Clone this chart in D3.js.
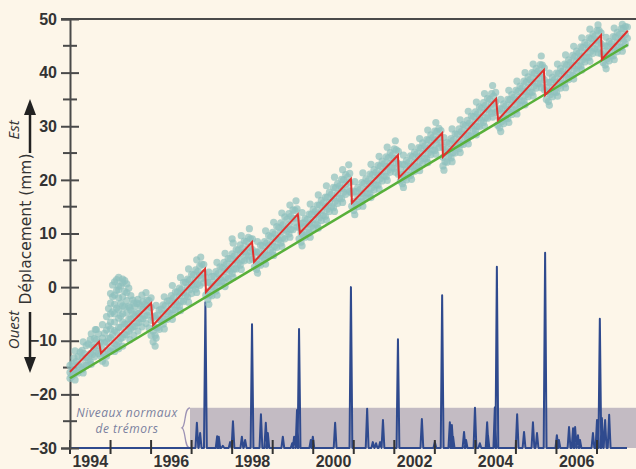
<!DOCTYPE html>
<html>
<head>
<meta charset="utf-8">
<script src="https://cdn.jsdelivr.net/npm/d3@7"></script>
<style>
  body { margin: 0; background: #fdf6e9; }
  svg { display: block; }
</style>
</head>
<body>
<div id="chart"></div>
<script>
// Axis ticks
var yMajor = [-30, -20, -10, 0, 10, 20, 30, 40, 50];
var yMinor = [-25, -15, -5, 5, 15, 25, 35, 45];
var xYears = [1994, 1995, 1996, 1997, 1998, 1999, 2000, 2001, 2002, 2003, 2004, 2005, 2006, 2007];
var xLabels = ["1994", "1996", "1998", "2000", "2002", "2004", "2006"];

// GPS readings: year, then displacement values (mm) read at that date
var gpsRows = [
  [1994.0, -14.6, -15.9, -17.0], [1994.1, -13.2, -15.4, -16.3], [1994.2, -12.9, -14.5, -16.0],
  [1994.3, -11.8, -13.2, -15.4], [1994.4, -10.9, -13.1, -14.6], [1994.5, -9.8, -12.4, -13.9],
  [1994.6, -9.6, -11.3, -13.0], [1994.7, -8.7, -10.9, -12.4], [1994.8, -9.5, -11.6, -13.8, -7.0],
  [1994.9, -8.0, -10.2, -12.9, -5.5], [1995.0, -6.5, -9.4, -11.9, -3.0, -1.2, -5.0, -7.8],
  [1995.1, -5.0, -8.1, -10.6, -1.5, 1.0, -3.2, -6.5, -12.0],
  [1995.2, -4.2, -7.5, -10.2, -0.5, 1.8, 0.2, -2.0, -5.8, -11.5],
  [1995.3, -3.5, -6.5, -9.4, 0.8, -1.8, 1.5, -5.0, -11.0], [1995.4, -4.8, -6.9, -8.9, -1.0, -2.5, 0.6],
  [1995.5, -4.3, -5.9, -7.8, -1.6], [1995.6, -3.6, -5.4, -7.3], [1995.7, -3.1, -4.9, -6.6],
  [1995.8, -2.7, -4.1, -5.9], [1995.9, -2.4, -3.5, -5.2], [1996.0, -2.0, -3.8, -6.2, -9.0],
  [1996.1, -5.4, -7.4, -9.0, -11.0], [1996.2, -4.3, -6.1, -7.9], [1996.3, -3.3, -5.0, -6.9],
  [1996.4, -2.6, -4.6, -6.0], [1996.5, -1.6, -3.3, -5.2], [1996.6, -0.9, -2.8, -4.3],
  [1996.7, -0.2, -1.6, -3.6], [1996.8, 0.9, -1.0, -2.7], [1996.9, 1.5, 0.0, -1.8],
  [1997.0, 2.4, 0.5, -1.2], [1997.1, 3.2, 1.3, -0.4], [1997.2, 3.9, 2.2, 0.3],
  [1997.3, 4.2, 2.6, 0.8], [1997.4, 0.9, -0.8, -2.3], [1997.5, 2.0, 0.1, -1.6],
  [1997.6, 2.9, 0.8, -0.7], [1997.7, 3.8, 1.7, 0.2], [1997.8, 4.6, 2.9, 0.9],
  [1997.9, 5.3, 3.4, 1.6], [1998.0, 6.2, 4.3, 2.5, 9.0], [1998.1, 7.0, 5.1, 3.4],
  [1998.2, 7.9, 6.2, 4.1], [1998.3, 8.6, 6.6, 4.9], [1998.4, 9.3, 7.4, 5.8],
  [1998.5, 9.0, 7.0, 5.2], [1998.6, 6.6, 4.9, 3.3], [1998.7, 7.8, 5.8, 4.1],
  [1998.8, 8.5, 6.7, 5.0], [1998.9, 9.6, 7.8, 5.9], [1999.0, 10.2, 8.4, 6.6],
  [1999.1, 11.3, 9.1, 7.4], [1999.2, 12.0, 10.3, 8.2], [1999.3, 13.1, 10.8, 9.0],
  [1999.4, 13.7, 11.6, 9.9], [1999.5, 14.4, 12.8, 10.7], [1999.6, 14.6, 12.9, 11.2],
  [1999.7, 11.9, 10.1, 8.4], [1999.8, 12.8, 11.3, 9.3], [1999.9, 13.6, 11.8, 10.1],
  [2000.0, 14.5, 12.6, 10.9], [2000.1, 15.3, 13.6, 11.6], [2000.2, 16.2, 14.2, 12.4],
  [2000.3, 16.8, 15.0, 13.2], [2000.4, 17.7, 15.8, 14.1], [2000.5, 18.6, 16.6, 14.8],
  [2000.6, 19.3, 17.5, 15.6], [2000.7, 20.1, 18.4, 16.5], [2000.8, 21.0, 19.2, 17.3],
  [2000.9, 21.2, 19.5, 17.8], [2001.0, 17.9, 16.0, 14.3], [2001.1, 18.6, 16.9, 15.0],
  [2001.2, 19.5, 17.5, 15.9], [2001.3, 20.2, 18.3, 16.6], [2001.4, 21.1, 19.3, 17.4],
  [2001.5, 21.9, 19.9, 18.1], [2001.6, 22.7, 20.9, 19.0], [2001.7, 23.5, 21.5, 19.8],
  [2001.8, 24.3, 22.5, 20.6], [2001.9, 25.1, 23.1, 21.4], [2002.0, 25.8, 24.0, 22.1],
  [2002.1, 25.3, 23.0, 21.0], [2002.2, 22.9, 21.0, 19.3], [2002.3, 23.6, 21.9, 20.0],
  [2002.4, 24.5, 22.5, 20.8], [2002.5, 25.2, 23.3, 21.6], [2002.6, 26.0, 24.3, 22.4],
  [2002.7, 26.9, 24.9, 23.1], [2002.8, 27.5, 25.8, 23.9], [2002.9, 28.4, 26.4, 24.7],
  [2003.0, 29.1, 27.4, 25.5], [2003.1, 29.6, 27.9, 26.0], [2003.2, 26.1, 24.2, 22.6],
  [2003.3, 27.0, 25.2, 23.3], [2003.4, 27.7, 25.8, 24.1], [2003.5, 28.6, 26.7, 25.0],
  [2003.6, 29.5, 27.5, 25.8], [2003.7, 30.3, 28.5, 26.6], [2003.8, 31.1, 29.1, 27.4],
  [2003.9, 31.9, 30.1, 28.2], [2004.0, 32.7, 30.8, 29.1], [2004.1, 33.6, 31.6, 29.9],
  [2004.2, 34.4, 32.6, 30.7], [2004.3, 35.2, 33.2, 31.5], [2004.4, 36.1, 34.1, 32.4],
  [2004.5, 36.3, 34.5, 32.6], [2004.6, 33.3, 31.4, 29.7], [2004.7, 34.2, 32.4, 30.5],
  [2004.8, 35.0, 33.1, 31.4], [2004.9, 35.9, 34.0, 32.2], [2005.0, 36.7, 34.9, 33.0],
  [2005.1, 37.5, 35.5, 33.8], [2005.2, 38.4, 36.5, 34.7], [2005.3, 39.2, 37.2, 35.5],
  [2005.4, 40.0, 38.2, 36.3], [2005.5, 40.8, 38.9, 37.1], [2005.6, 41.5, 39.8, 37.9],
  [2005.7, 40.9, 38.7, 36.8], [2005.8, 38.2, 36.4, 34.6], [2005.9, 39.1, 37.2, 35.5],
  [2006.0, 39.9, 38.2, 36.3], [2006.1, 40.8, 38.8, 37.1], [2006.2, 41.6, 39.7, 37.9],
  [2006.3, 42.4, 40.6, 38.7], [2006.4, 43.2, 41.3, 39.5], [2006.5, 44.0, 42.2, 40.3],
  [2006.6, 44.8, 43.0, 41.2], [2006.7, 45.6, 43.7, 42.0], [2006.8, 46.5, 44.6, 42.8],
  [2006.9, 47.2, 45.5, 43.6], [2007.0, 47.9, 46.1, 44.4], [2007.1, 47.4, 45.4, 43.5],
  [2007.2, 45.0, 43.1, 41.4], [2007.3, 45.8, 44.0, 42.2], [2007.4, 46.7, 44.8, 43.1],
  [2007.5, 47.5, 45.7, 43.9], [2007.6, 48.2, 46.4, 44.7], [2007.7, 48.6, 47.1, 45.3]
];

// GPS readings between the rows above
var gpsRowsMid = [
  [1994.05, -14.3, -16.6], [1994.15, -13.9, -15.8], [1994.25, -12.1, -14.9], [1994.35, -12.4, -14.5],
  [1994.45, -10.6, -13.6], [1994.55, -10.9, -12.6], [1994.65, -9.8, -11.9, -7.9], [1994.75, -10.3, -12.8],
  [1994.85, -10.4, -12.5, -8.6], [1994.95, -9.6, -11.9, -7.2, -4.0], [1995.05, -8.9, -11.4, -4.6, -1.8, 0.4],
  [1995.15, -8.4, -10.8, -3.9, -0.6, 1.4], [1995.25, -7.5, -9.6, -3.0, 0.2, -5.4], [1995.35, -6.9, -8.8, -3.7, -0.8, 1.2],
  [1995.45, -6.0, -8.2, -3.6, -0.2], [1995.55, -5.0, -7.4, -2.4], [1995.65, -4.8, -6.7, -3.0], [1995.75, -3.6, -5.9],
  [1995.85, -3.2, -5.4], [1995.95, -2.5, -4.6, -7.6], [1996.05, -5.6, -8.2, -10.2], [1996.15, -5.2, -7.6],
  [1996.25, -4.1, -6.3], [1996.35, -3.5, -5.9], [1996.45, -2.5, -4.8], [1996.55, -2.0, -4.2],
  [1996.65, -0.9, -3.3], [1996.75, -0.4, -2.6], [1996.85, 0.9, -1.6], [1996.95, 1.3, -0.5],
  [1997.05, 2.3, 0.2], [1997.15, 2.9, 0.6], [1997.25, 4.3, 1.6], [1997.35, 1.8, -1.5],
  [1997.45, 0.9, -1.4], [1997.55, 2.0, -0.3], [1997.65, 2.5, 0.8], [1997.75, 3.6, 1.2],
  [1997.85, 4.2, 1.8], [1997.95, 5.3, 3.0], [1998.05, 5.8, 3.4], [1998.15, 6.9, 4.5],
  [1998.25, 7.3, 5.1], [1998.35, 8.5, 6.1], [1998.45, 9.0, 6.6], [1998.55, 6.3, 3.8],
  [1998.65, 6.6, 4.3], [1998.75, 7.7, 5.5], [1998.85, 8.2, 6.0], [1998.95, 9.4, 7.0],
  [1999.05, 9.9, 7.6], [1999.15, 11.1, 8.8], [1999.25, 11.6, 9.2], [1999.35, 12.7, 10.4],
  [1999.45, 13.2, 10.8], [1999.55, 14.3, 12.0], [1999.65, 11.2, 9.0], [1999.75, 12.0, 9.7],
  [1999.85, 12.6, 10.2], [1999.95, 13.6, 11.3], [2000.05, 14.1, 11.8], [2000.15, 15.3, 12.9],
  [2000.25, 15.7, 13.4], [2000.35, 16.8, 14.5], [2000.45, 17.3, 15.0], [2000.55, 18.5, 16.0],
  [2000.65, 18.9, 16.6], [2000.75, 20.0, 17.7], [2000.85, 20.5, 18.2], [2000.95, 17.5, 15.1],
  [2001.05, 17.8, 15.5], [2001.15, 18.2, 15.9], [2001.25, 19.3, 17.0], [2001.35, 19.8, 17.5],
  [2001.45, 20.9, 18.6], [2001.55, 21.4, 19.1], [2001.65, 22.5, 20.2], [2001.75, 23.0, 20.7],
  [2001.85, 24.1, 21.8], [2001.95, 24.6, 22.3], [2002.05, 25.6, 23.3], [2002.15, 22.0, 19.8],
  [2002.25, 22.8, 20.5], [2002.35, 23.2, 20.9], [2002.45, 24.3, 22.0], [2002.55, 24.8, 22.5],
  [2002.65, 25.9, 23.6], [2002.75, 26.3, 24.0], [2002.85, 27.4, 25.1], [2002.95, 27.9, 25.6],
  [2003.05, 29.0, 26.7], [2003.15, 29.2, 27.0], [2003.25, 25.7, 23.4], [2003.35, 26.8, 24.5],
  [2003.45, 27.4, 25.1], [2003.55, 28.5, 26.2], [2003.65, 29.0, 26.7], [2003.75, 30.1, 27.8],
  [2003.85, 30.6, 28.3], [2003.95, 31.8, 29.5], [2004.05, 32.3, 30.0], [2004.15, 33.4, 31.1],
  [2004.25, 33.9, 31.6], [2004.35, 35.0, 32.7], [2004.45, 35.6, 33.3], [2004.55, 32.8, 30.2],
  [2004.65, 33.2, 30.9], [2004.75, 33.8, 31.5], [2004.85, 34.9, 32.6], [2004.95, 35.4, 33.1],
  [2005.05, 36.5, 34.2], [2005.15, 37.1, 34.8], [2005.25, 38.2, 35.9], [2005.35, 38.7, 36.4],
  [2005.45, 39.8, 37.5], [2005.55, 40.3, 38.0], [2005.65, 41.4, 39.1], [2005.75, 37.2, 35.0],
  [2005.85, 38.2, 35.9], [2005.95, 38.7, 36.4], [2006.05, 39.8, 37.5], [2006.15, 40.3, 38.0],
  [2006.25, 41.4, 39.1], [2006.35, 41.9, 39.6], [2006.45, 43.0, 40.7], [2006.55, 43.6, 41.3],
  [2006.65, 44.7, 42.4], [2006.75, 45.2, 42.9], [2006.85, 46.3, 44.0], [2006.95, 46.8, 44.5],
  [2007.05, 47.9, 45.6], [2007.15, 43.9, 41.9], [2007.25, 44.9, 42.6], [2007.35, 45.4, 43.1],
  [2007.45, 46.6, 44.3], [2007.55, 47.1, 44.8], [2007.65, 48.2, 45.9], [2007.75, 48.5, 46.4]
];

// Scattered readings at the upper and lower edge of the cloud
var gpsRowsEdge = [
  [1994.125, -11.9, -17.3], [1994.325, -10.2, -16.0], [1994.525, -8.7, -14.4], [1994.625, -7.9],
  [1994.875, -14.2], [1995.475, -3.8, -9.8], [1995.575, -3.0, -9.0], [1995.675, -2.3, -8.2],
  [1995.775, -1.5, -7.4], [1995.875, -1.0, -6.8], [1996.125, -3.4, -9.5], [1996.325, -1.8, -7.8],
  [1996.525, 0.3, -6.0], [1996.725, 1.8, -4.4], [1996.925, 3.4, -2.8], [1997.125, 5.1, -1.0],
  [1997.225, 5.6], [1997.425, 2.8, -3.2], [1997.625, 4.6, -1.5], [1997.825, 6.3, 0.1],
  [1998.025, 8.2, 1.8], [1998.225, 9.6, 3.3], [1998.425, 10.9, 5.0], [1998.625, 8.5, 2.6],
  [1998.825, 10.5, 4.3], [1999.025, 12.1, 5.9], [1999.225, 13.8, 7.6], [1999.425, 15.3, 9.3],
  [1999.575, 16.1], [1999.725, 13.9, 7.7], [1999.925, 15.5, 9.3], [2000.125, 17.2, 11.0],
  [2000.325, 18.9, 12.5], [2000.525, 20.5, 14.1], [2000.725, 21.9, 15.8], [2000.875, 22.8],
  [2001.025, 19.7, 13.5], [2001.225, 21.3, 15.1], [2001.425, 22.9, 16.7], [2001.625, 24.4, 18.3],
  [2001.825, 26.1, 19.9], [2002.025, 27.3, 21.4], [2002.225, 24.6, 18.6], [2002.425, 26.2, 20.1],
  [2002.625, 27.7, 21.7], [2002.825, 29.3, 23.2], [2003.025, 30.7, 24.8], [2003.225, 27.9, 21.8],
  [2003.425, 29.5, 23.4], [2003.625, 31.2, 25.1], [2003.825, 32.8, 26.7], [2004.025, 34.5, 28.4],
  [2004.225, 36.1, 30.0], [2004.425, 37.6, 31.7], [2004.625, 35.0, 29.0], [2004.825, 36.7, 30.7],
  [2005.025, 38.4, 32.3], [2005.225, 40.0, 34.0], [2005.425, 41.6, 35.6], [2005.625, 43.1, 37.2],
  [2005.825, 39.9, 33.9], [2006.025, 41.6, 35.6], [2006.225, 43.3, 37.2], [2006.425, 44.9, 38.8],
  [2006.625, 46.5, 40.5], [2006.825, 48.1, 42.1], [2007.025, 48.9, 43.7], [2007.225, 46.6, 40.7],
  [2007.425, 48.3, 42.4], [2007.625, 49.0, 44.0]
];

// Sawtooth model (red)
var slipYear = [1994.0, 1994.715, 1994.765, 1996.0, 1996.05, 1997.33, 1997.355, 1998.49, 1998.54,
  1999.62, 1999.67, 2000.93, 2000.955, 2002.09, 2002.115, 2003.18, 2003.2, 2004.51, 2004.56,
  2005.69, 2005.72, 2007.1, 2007.12, 2007.76];
var slipMm = [-15.8, -10.2, -12.3, -3.0, -7.1, 3.4, -0.9, 8.4, 4.7,
  13.6, 10.1, 20.2, 15.7, 24.6, 20.4, 28.7, 24.3, 35.1, 31.2,
  40.5, 35.8, 47.0, 42.5, 47.8];

// Long-term trend (green)
var trendYear = [1994.0, 2007.76];
var trendMm = [-17.0, 45.2];

// Tremor activity, peaks plotted on the mm scale
var tremorYear = [1997.13, 1997.21, 1997.34, 1997.63, 1997.67, 1997.77, 1997.95, 1998.02, 1998.24,
  1998.32, 1998.49, 1998.71, 1998.83, 1998.88, 1999.25, 1999.48, 1999.53, 1999.6, 1999.65,
  1999.94, 1999.99, 2000.54, 2000.93, 2001.33, 2001.47, 2001.55, 2001.65, 2001.72, 2002.09,
  2002.68, 2003.0, 2003.18, 2003.37, 2003.42, 2003.45, 2003.72, 2003.77, 2003.99, 2004.11,
  2004.29, 2004.31, 2004.48, 2004.53, 2005.03, 2005.2, 2005.42, 2005.52, 2005.72, 2006.01,
  2006.06, 2006.31, 2006.41, 2006.46, 2006.53, 2006.58, 2006.9, 2007.0, 2007.07, 2007.12,
  2007.2, 2007.3];
var tremorLevel = [-25.3, -27.2, -2.8, -27.8, -27.9, -29.6, -28.9, -25.0, -27.9,
  -28.5, -6.9, -23.7, -25.3, -27.2, -27.9, -29.1, -27.9, -22.9, -7.8,
  -28.5, -27.9, -25.3, 0.0, -22.7, -28.9, -29.1, -28.9, -24.8, -9.7,
  -24.6, -28.9, -1.5, -25.2, -25.7, -27.9, -27.0, -28.5, -22.5, -29.1,
  -25.2, -27.6, -22.4, 3.8, -23.7, -27.0, -25.2, -27.2, 6.4, -27.6,
  -28.5, -26.1, -26.3, -26.1, -27.6, -28.5, -27.2, -24.8, -5.9, -24.4,
  -24.8, -23.8];
var tremorStart = 1994.0, tremorEnd = 2007.74;
var normalLevel = -22.5;

var width = 636, height = 469;

var svg = d3.select("#chart").append("svg")
    .attr("width", width)
    .attr("height", height);

var x = d3.scaleLinear().domain([1994, 2007]).range([70, 597]);
var y = d3.scaleLinear().domain([-30, 50]).range([448, 19]);

var line = d3.line()
    .x(function(d) { return x(d[0]); })
    .y(function(d) { return y(d[1]); });

// Normal tremor band
svg.append("rect")
    .attr("x", 190)
    .attr("y", y(normalLevel))
    .attr("width", width - 190)
    .attr("height", y(-30) - y(normalLevel))
    .attr("fill", "#c3bbc3");

// brace
var bt = y(normalLevel), bb = y(-30), bm = (bt + bb) / 2;
svg.append("path")
    .attr("d", "M190," + bt + " C184," + bt + " 186," + (bm - 2) + " 182," + bm +
               " C186," + (bm + 2) + " 184," + bb + " 190," + bb)
    .attr("fill", "none")
    .attr("stroke", "#9d93b5")
    .attr("stroke-width", 1.3);

svg.append("text")
    .attr("x", 127).attr("y", 417)
    .attr("text-anchor", "middle")
    .style("font", "italic 12px 'Open Sans', sans-serif")
    .style("letter-spacing", "0.5px")
    .attr("fill", "#7a7f9e")
    .text("Niveaux normaux");
svg.append("text")
    .attr("x", 127).attr("y", 433)
    .attr("text-anchor", "middle")
    .style("font", "italic 12px 'Open Sans', sans-serif")
    .style("letter-spacing", "0.5px")
    .attr("fill", "#7a7f9e")
    .text("de trémors");

// Tremor trace
var tremorPts = [[tremorStart, -30]];
tremorYear.forEach(function(t, i) {
    tremorPts.push([t - 0.035, -30], [t, tremorLevel[i]], [t + 0.035, -30]);
});
tremorPts.push([tremorEnd, -30]);

svg.append("path")
    .datum(tremorPts)
    .attr("fill", "none")
    .attr("stroke", "#2f4a8e")
    .attr("stroke-width", 2)
    .attr("stroke-linejoin", "round")
    .attr("d", line);

// Top frame line
svg.append("line")
    .attr("x1", 61).attr("x2", width)
    .attr("y1", y(50)).attr("y2", y(50))
    .attr("stroke", "#4a4a4a")
    .attr("stroke-width", 2);

// X ticks crossing the baseline
svg.append("g").selectAll("line")
    .data(xYears)
    .enter().append("line")
    .attr("x1", function(d) { return x(d); })
    .attr("x2", function(d) { return x(d); })
    .attr("y1", 440).attr("y2", 454)
    .attr("stroke", "#333")
    .attr("stroke-width", 2);

svg.append("g").selectAll("text")
    .data(xLabels)
    .enter().append("text")
    .attr("x", function(d) { return x(+d + 0.5); })
    .attr("y", 467)
    .attr("text-anchor", "middle")
    .style("font", "bold 16px 'Liberation Sans', Arial, sans-serif")
    .attr("fill", "#333")
    .text(function(d) { return d; });

// Y axis
var yAxis = svg.append("g")
    .attr("transform", "translate(70,0)")
    .call(d3.axisLeft(y).tickValues(yMajor).tickSize(9).tickPadding(4).tickFormat(d3.format("d")));
yAxis.select(".domain").attr("stroke", "#4a4a4a").attr("stroke-width", 2);
yAxis.selectAll(".tick line").attr("x1", 9).attr("stroke", "#4a4a4a").attr("stroke-width", 2);
yAxis.selectAll(".tick text")
    .style("font", "bold 16px 'Liberation Sans', Arial, sans-serif")
    .attr("fill", "#333");

svg.append("g").selectAll("line")
    .data(yMinor)
    .enter().append("line")
    .attr("x1", 63).attr("x2", 77)
    .attr("y1", function(d) { return y(d); })
    .attr("y2", function(d) { return y(d); })
    .attr("stroke", "#4a4a4a")
    .attr("stroke-width", 2);

// GPS cloud
var gps = [];
gpsRows.concat(gpsRowsMid, gpsRowsEdge).forEach(function(r) {
    for (var i = 1; i < r.length; i++) gps.push([r[0], r[i]]);
});

svg.append("g").selectAll("circle")
    .data(gps)
    .enter().append("circle")
    .attr("cx", function(d) { return x(d[0]); })
    .attr("cy", function(d) { return y(d[1]); })
    .attr("r", 3.6)
    .attr("fill", "#8fc1be")
    .attr("fill-opacity", 0.72);

// Trend and model
svg.append("path")
    .datum(trendYear.map(function(t, i) { return [t, trendMm[i]]; }))
    .attr("fill", "none")
    .attr("stroke", "#58b03a")
    .attr("stroke-width", 2.5)
    .attr("d", line);

svg.append("path")
    .datum(slipYear.map(function(t, i) { return [t, slipMm[i]]; }))
    .attr("fill", "none")
    .attr("stroke", "#e0302c")
    .attr("stroke-width", 2)
    .attr("d", line);

// Y label and direction arrows
svg.append("text")
    .attr("transform", "translate(31,229) rotate(-90)")
    .attr("text-anchor", "middle")
    .style("font", "15.5px 'DejaVu Sans', sans-serif")
    .attr("fill", "#333")
    .text("Déplacement (mm)");

svg.append("text")
    .attr("transform", "translate(19,130) rotate(-90)")
    .attr("text-anchor", "middle")
    .style("font", "italic 15px 'Open Sans', sans-serif")
    .attr("fill", "#333")
    .text("Est");
svg.append("text")
    .attr("transform", "translate(19,330) rotate(-90)")
    .attr("text-anchor", "middle")
    .style("font", "italic 15px 'Open Sans', sans-serif")
    .attr("fill", "#333")
    .text("Ouest");

svg.append("line").attr("x1", 30).attr("x2", 30).attr("y1", 112).attr("y2", 153)
    .attr("stroke", "#222").attr("stroke-width", 2.5);
svg.append("path").attr("d", "M30,99 L24,115 L36,115 Z").attr("fill", "#222");
svg.append("line").attr("x1", 30).attr("x2", 30).attr("y1", 312).attr("y2", 358)
    .attr("stroke", "#222").attr("stroke-width", 2.5);
svg.append("path").attr("d", "M30,373 L24,357 L36,357 Z").attr("fill", "#222");
</script>
</body>
</html>
